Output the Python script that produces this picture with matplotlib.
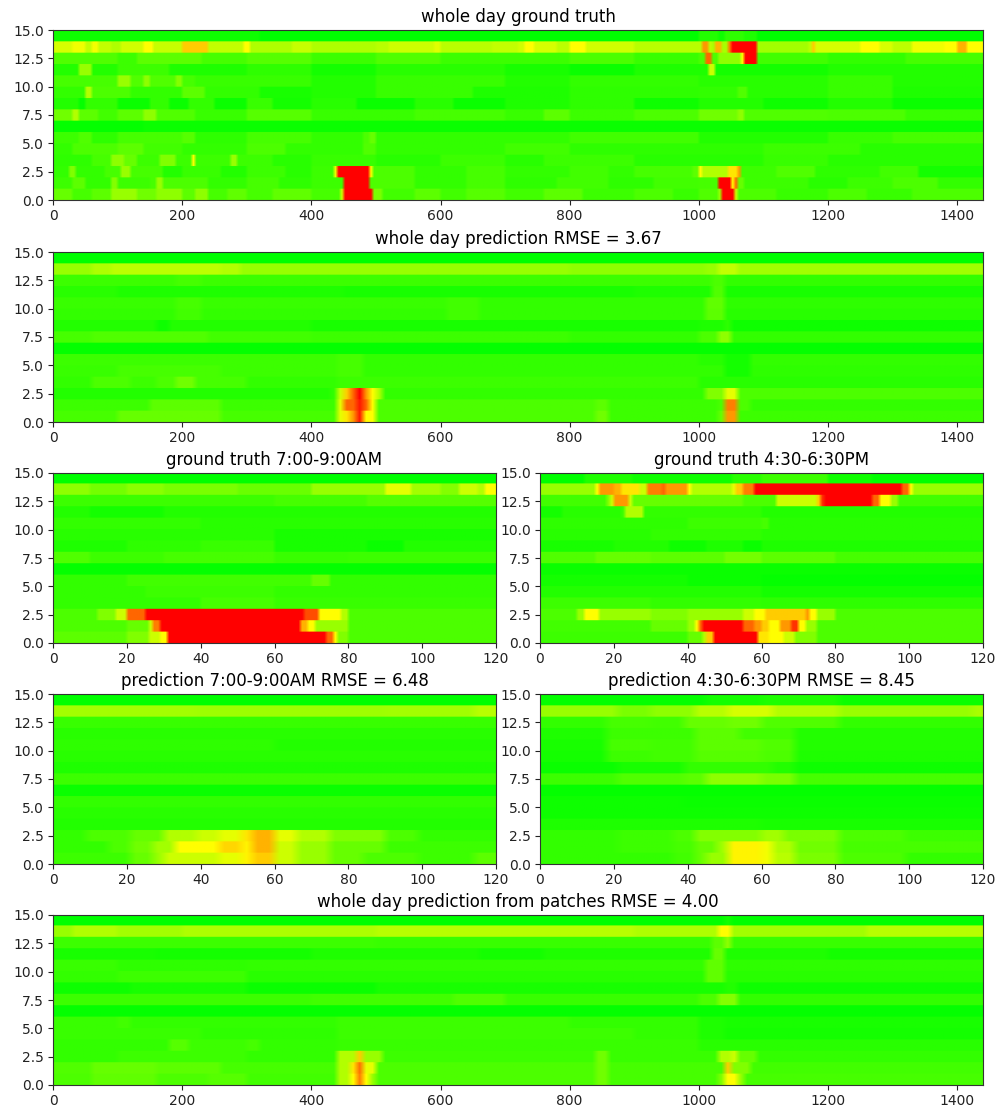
import numpy as np
import matplotlib
matplotlib.use("Agg")
import matplotlib.pyplot as plt
from matplotlib.colors import LinearSegmentedColormap

# Each row (bottom row first) is a list of (start x, congestion level 0-10) runs
GT_DAY = [
 [(0,2),(30,1.4),(60,1.8),(90,3),(130,2.2),(160,2.8),(200,1.8),(220,2.8),(240,1.4),(270,1.9),(300,1.4),(340,1.9),(400,1.4),(445,4),(450,10),(495,2.4),(510,1.3),(560,1.8),(600,1.3),(640,1.7),(700,1.3),(760,1.8),(820,1.2),(900,1.5),(960,1.1),(1000,1.6),(1030,3),(1035,10),(1055,4),(1060,1.5),(1120,1.1),(1200,1.5),(1260,1.1),(1330,1.5),(1440,1.2)],
 [(0,1.2),(30,1.8),(50,1.0),(90,2.6),(100,1.2),(150,1.4),(160,3),(170,1.5),(240,1.0),(300,1.4),(350,0.9),(400,1.2),(448,6),(452,10),(488,4),(492,1.5),(560,1),(640,1.4),(700,0.9),(780,1.3),(860,0.9),(930,1.3),(1000,1.4),(1030,2),(1032,10),(1050,5),(1055,8),(1060,2),(1070,1.2),(1170,0.8),(1230,1.2),(1300,1.5),(1370,1.0),(1440,1)],
 [(0,1),(25,2.5),(35,1),(80,1.4),(105,3),(120,1.4),(170,0.7),(200,1.1),(260,0.7),(300,1.2),(360,0.8),(400,1.2),(435,4.5),(442,10),(490,5),(496,1.5),(560,1.0),(640,1.4),(700,1),(800,1.3),(860,1.0),(900,1.4),(990,1.8),(1000,5),(1004,3.5),(1030,3.5),(1045,5.5),(1060,7),(1066,1.2),(1120,1.6),(1180,0.9),(1280,1.3),(1340,0.4),(1440,0.4)],
 [(0,0.9),(60,1.4),(90,2.8),(110,2),(130,1.2),(165,2.5),(190,1.2),(213,5),(218,1.2),(275,3),(285,1.2),(340,0.8),(400,1.1),(500,0.8),(600,1.2),(700,0.8),(760,1.2),(900,0.8),(1100,1.1),(1200,0.8),(1440,0.9)],
 [(0,1.0),(30,1.5),(100,1.8),(140,1.3),(200,1.0),(300,1.5),(360,1),(480,1.6),(500,1.0),(700,1.3),(800,0.9),(1100,1.2),(1250,0.8),(1440,0.8)],
 [(0,1.2),(40,1.6),(60,0.9),(100,1.4),(200,1.7),(220,0.9),(300,1.4),(400,1.0),(480,1.5),(490,2),(500,1.0),(800,1.3),(1000,0.7),(1200,1.1),(1300,1.4),(1440,0.7)],
 [(0,0.1),(140,0.2),(1440,0.1)],
 [(0,2.2),(30,3.5),(40,1.8),(70,1.3),(100,1.8),(140,2.8),(160,1.6),(220,1.1),(300,1.7),(400,1.1),(560,1.4),(700,1.1),(760,1.8),(800,1.2),(900,1.5),(1000,2.2),(1060,2.8),(1070,1.6),(1200,1.5),(1320,1.1),(1440,1.4)],
 [(0,0.7),(40,0.1),(50,1.0),(100,0.2),(150,1.0),(180,0.2),(210,1),(250,0.2),(300,1.1),(340,0.4),(400,0.8),(470,0.2),(560,0.8),(620,0.2),(700,0.6),(800,0.9),(900,0.3),(1000,0.7),(1100,0.3),(1200,0.7),(1300,0.2),(1440,0.2)],
 [(0,1.0),(50,3.5),(60,1.5),(120,1.0),(200,1.8),(235,1.0),(320,0.5),(400,0.7),(500,1.1),(650,0.6),(800,0.9),(1000,1.0),(1060,1.6),(1075,0.8),(1200,1.1),(1300,0.6),(1440,0.7)],
 [(0,1.4),(100,3),(120,1.6),(140,2.8),(150,1.6),(190,2.6),(200,1.4),(220,1.1),(400,0.7),(500,1.1),(700,0.7),(800,1),(1000,0.8),(1200,1.1),(1300,0.7),(1440,0.8)],
 [(0,0.7),(40,3),(60,0.7),(100,1.2),(180,0.6),(300,0.9),(400,0.4),(500,0.8),(700,0.5),(800,0.2),(900,0.6),(1015,4),(1025,0.4),(1200,0.7),(1440,0.5)],
 [(0,1.6),(100,1.2),(130,1.8),(230,1.4),(300,1.7),(400,1.2),(500,1.6),(600,1.2),(800,1.5),(900,1.1),(1000,1.5),(1012,8),(1018,1.5),(1030,2.8),(1065,5),(1070,10),(1090,1.3),(1200,1.0),(1320,1.4),(1440,1.0)],
 [(0,4.2),(30,4.7),(50,3.8),(60,4.8),(70,3.8),(90,3.4),(105,4.1),(140,5),(155,3.9),(200,6),(240,3.8),(295,5),(305,3.4),(370,3.9),(400,3.4),(500,3.6),(520,4),(590,4.4),(600,3.6),(680,3.8),(720,4.1),(730,5),(745,4.2),(780,3.7),(800,5),(825,4.1),(900,3.6),(990,3.6),(1005,7),(1015,3.7),(1020,3.3),(1025,6.5),(1035,3.3),(1045,7.5),(1050,10),(1090,3.2),(1170,3.7),(1175,6),(1180,4.2),(1250,5),(1280,4.2),(1300,3.7),(1330,4.7),(1380,5),(1400,6.5),(1415,5),(1440,5)],
 [(0,0.3),(320,0),(1000,0.7),(1030,0.3),(1040,0.9),(1070,0.6),(1090,0),(1440,0)],
]
PRED_DAY = [
 [(0,1.4),(100,2),(260,1.4),(440,4.5),(450,5.5),(458,7),(468,9.5),(478,8),(485,5),(498,1.5),(840,2.2),(860,1.2),(1030,2),(1035,7),(1055,3),(1065,1.2),(1440,1.2)],
 [(0,1.2),(150,1.8),(260,1.2),(445,4.5),(452,8),(470,9.5),(480,8),(490,5),(500,1.5),(840,1.8),(860,1.2),(1030,1.5),(1035,7.5),(1055,4),(1062,1.5),(1080,1),(1440,1)],
 [(0,0.7),(430,1),(440,4),(450,6),(455,8),(470,10),(478,7),(490,5),(500,3.5),(510,1),(1000,1),(1010,2.5),(1035,4.5),(1055,5),(1060,1.5),(1440,0.8)],
 [(0,1.0),(60,1.5),(120,1.2),(160,1.5),(190,2.2),(220,1.4),(300,1.0),(440,1.2),(1000,0.8),(1440,0.9)],
 [(0,1.1),(100,1.4),(260,1.2),(440,1.4),(480,1.0),(1040,0.4),(1080,0.9),(1440,0.9)],
 [(0,1.2),(440,1.4),(480,1.0),(1000,0.8),(1040,0.4),(1080,1.0),(1440,1.0)],
 [(0,0.1),(1440,0.1)],
 [(0,1.4),(60,1.6),(240,1.3),(400,1.2),(800,1.0),(1000,1.5),(1030,2.8),(1050,1.0),(1440,1.0)],
 [(0,0.7),(160,0.3),(180,0.7),(400,0.5),(1000,0.6),(1040,0.9),(1050,0.3),(1440,0.3)],
 [(0,1.0),(190,1.3),(230,1.0),(610,1.3),(660,1.0),(1010,1.8),(1045,0.8),(1440,0.8)],
 [(0,1.1),(190,1.4),(230,1.1),(610,1.3),(660,1.0),(1010,1.9),(1045,0.9),(1440,0.9)],
 [(0,0.8),(100,0.6),(450,0.5),(900,0.6),(1015,1.6),(1045,0.5),(1440,0.7)],
 [(0,1.2),(190,1.4),(230,1.2),(1020,1.5),(1035,2.6),(1045,1.0),(1440,1.0)],
 [(0,3.0),(60,3.4),(90,3.7),(260,3.5),(290,3.0),(800,2.8),(1010,3),(1030,3.8),(1060,3.2),(1440,2.8)],
 [(0,0),(1440,0)],
]
PATCH_DAY = [
 [(0,1.5),(60,1.9),(160,1.5),(240,1.7),(300,1.3),(440,3.5),(455,5),(470,7.5),(480,5),(490,3),(505,1.5),(840,2.2),(865,1.4),(1030,2.5),(1035,5),(1055,3),(1070,1.4),(1440,1.2)],
 [(0,1.6),(60,2),(160,1.8),(260,1.4),(445,3.5),(455,5.5),(468,7.8),(480,4.5),(500,1.5),(840,2.2),(865,1.4),(1040,6),(1052,2.5),(1075,1.3),(1440,1.2)],
 [(0,1.0),(100,1.2),(300,1.0),(440,3.5),(470,6),(478,3),(510,1.2),(840,2.2),(865,1.1),(1030,3.5),(1050,4),(1062,2),(1090,1),(1440,1)],
 [(0,1.0),(180,1.7),(210,1.2),(300,1.4),(320,1),(440,1.1),(1000,0.8),(1440,0.9)],
 [(0,1.1),(230,0.9),(440,1.2),(900,1),(1000,0.6),(1040,0.4),(1440,1)],
 [(0,1.1),(100,1.3),(120,1.0),(440,1.2),(800,1.0),(1000,0.6),(1040,0.5),(1440,1)],
 [(0,0.1),(1440,0.1)],
 [(0,1.2),(400,1.3),(620,1.6),(700,1.1),(1000,1.5),(1030,2.6),(1055,1.0),(1440,1)],
 [(0,0.3),(120,0.5),(300,0.2),(500,0.5),(1000,0.5),(1040,0.7),(1055,0.3),(1440,0.2)],
 [(0,1.0),(100,1.2),(300,0.8),(1010,1.9),(1045,0.8),(1440,0.9)],
 [(0,1.1),(100,0.9),(300,1.0),(1010,1.9),(1045,0.9),(1440,1.0)],
 [(0,0.5),(160,0.4),(400,0.6),(660,0.4),(760,0.6),(1020,2),(1040,0.6),(1200,0.4),(1440,0.5)],
 [(0,1.2),(500,1.1),(1020,1.8),(1040,2.8),(1050,1.1),(1440,1.1)],
 [(0,3),(30,3.5),(100,3.2),(200,3.4),(500,3.6),(900,3.4),(1030,5),(1050,3.2),(1260,3.6),(1440,3.2)],
 [(0,0),(1040,0.4),(1050,0),(1440,0)],
]
GT_AM = [
 [(0,1.8),(20,2.5),(26,4),(29,5),(31,10),(74,8),(76,5),(77,2.5),(80,1.5),(120,1.3)],
 [(0,1.5),(20,2),(26,4),(27,7.5),(29,10),(67,6.5),(69,5),(71,3),(80,1.5),(120,1.2)],
 [(0,1.5),(12,2.5),(17,4),(20,8),(25,10),(68,8.5),(72,5),(78,3.5),(80,1.5),(120,1.2)],
 [(0,1.0),(40,1.4),(60,1.1),(120,1.0)],
 [(0,1.0),(25,1.2),(60,1.0),(120,0.9)],
 [(0,1.0),(20,1.3),(70,2),(75,1),(120,0.9)],
 [(0,0.1),(120,0.1)],
 [(0,1.6),(10,1.2),(30,1.4),(60,1.1),(80,1.2),(120,1.2)],
 [(0,0.6),(20,0.9),(40,1.1),(60,0.5),(85,0.2),(95,0.7),(120,0.6)],
 [(0,0.8),(60,0.5),(120,0.6)],
 [(0,1.0),(40,0.8),(120,0.7)],
 [(0,0.7),(10,0.4),(30,0.7),(120,0.5)],
 [(0,1.2),(60,1.4),(85,1.7),(120,1.2)],
 [(0,2.8),(10,2.3),(20,2.7),(30,2.4),(50,2.1),(70,3),(90,4.5),(97,3.2),(105,2.6),(110,4),(115,3.5),(117,5),(120,5)],
 [(0,0),(120,0)],
]
GT_PM = [
 [(0,1.2),(40,2),(44,3.5),(45,6),(47,10),(59,5.5),(62,5),(66,4),(69,2.5),(75,1.5),(120,1.2)],
 [(0,1.3),(30,2),(40,3),(42,5),(43,8),(44,10),(55,8),(58,7),(60,6),(62,5),(65,7),(68,9),(70,5),(72,3),(75,1.5),(120,1.1)],
 [(0,1.5),(10,3),(12,5),(16,3),(30,2.5),(40,3),(55,4),(58,5),(61,6),(72,7),(73,5),(75,3),(80,1.5),(120,1.1)],
 [(0,1.2),(30,1.0),(60,0.9),(120,0.9)],
 [(0,0.7),(60,0.4),(120,0.5)],
 [(0,0.4),(40,0.2),(60,0.1),(120,0.3)],
 [(0,0.2),(120,0.1)],
 [(0,1.6),(15,2),(30,1.8),(50,2.3),(60,1.8),(80,1.4),(120,1.2)],
 [(0,0.5),(20,0.7),(35,0.3),(45,0.6),(55,0.2),(60,0.6),(120,0.2)],
 [(0,0.8),(30,1),(60,0.8),(120,0.6)],
 [(0,0.9),(40,1.2),(60,1.4),(62,0.8),(120,0.6)],
 [(0,0.4),(6,0.8),(22,1.2),(23,3.5),(28,1),(60,0.7),(120,0.5)],
 [(0,1.3),(18,2.5),(19,4),(20,7),(24,4),(25,2),(40,2),(55,1.5),(64,4),(75,6),(76,9),(77,10),(90,8),(92,5),(95,3),(97,1.3),(120,1.3)],
 [(0,3),(15,5),(16,7),(20,6.5),(22,5.5),(27,4),(29,7.5),(33,8),(34,7),(40,5),(41,3.5),(52,4.5),(53,6),(55,7.5),(58,10),(98,8),(100,5),(101,3),(120,3)],
 [(0,0),(12,0.6),(25,0.3),(50,0.3),(52,0.8),(60,1.2),(78,0.3),(90,0),(120,0)],
]
PRED_AM = [
 [(0,1.2),(20,2),(26,3),(30,4),(45,4.5),(50,5.2),(55,6),(60,4),(66,3),(75,2),(85,1.5),(100,1.2),(115,1.8),(120,1.8)],
 [(0,1),(15,1.5),(22,2.2),(28,3.2),(32,5),(45,5.8),(50,5.2),(55,6.5),(60,4),(65,3),(75,2),(90,1.2),(120,1)],
 [(0,1),(10,1.5),(20,2),(30,3.5),(40,4),(45,4.5),(50,5.5),(53,6.5),(59,4.5),(65,3.5),(75,2.5),(90,1.5),(100,1),(120,1)],
 [(0,0.7),(120,0.6)],
 [(0,0.8),(120,0.6)],
 [(0,1),(120,1)],
 [(0,0.2),(120,0.2)],
 [(0,1.2),(120,1.1)],
 [(0,0.6),(120,0.5)],
 [(0,0.8),(120,0.6)],
 [(0,0.9),(60,0.7),(120,0.7)],
 [(0,0.8),(120,0.8)],
 [(0,1.1),(120,1.1)],
 [(0,3.2),(40,3.1),(90,3.2),(115,3.6),(120,3.6)],
 [(0,0),(120,0)],
]
PRED_PM = [
 [(0,1),(20,1),(35,1.3),(42,2),(46,3),(50,4.2),(52,5.2),(60,4.8),(64,3.6),(70,2.4),(80,1.5),(100,1),(120,1)],
 [(0,1),(20,1.2),(35,1.4),(42,2),(48,3.2),(50,4.5),(52,5.2),(60,4.8),(64,3.4),(70,2.2),(80,1.4),(120,1)],
 [(0,1),(20,1.2),(35,1.5),(42,2.6),(60,3.2),(66,2.4),(80,1.5),(100,1.2),(120,1)],
 [(0,0.6),(60,0.5),(120,0.5)],
 [(0,0.3),(120,0.3)],
 [(0,0.3),(40,0.2),(120,0.2)],
 [(0,0.1),(120,0.2)],
 [(0,1.2),(20,1.6),(40,1.8),(46,2.8),(60,2.4),(68,1.4),(120,1.1)],
 [(0,0.2),(20,0.5),(40,1),(62,0.7),(70,0.3),(120,0.2)],
 [(0,0.4),(18,1.2),(30,1.3),(42,1.7),(60,1.5),(68,0.6),(120,0.4)],
 [(0,0.5),(18,1.4),(30,1.3),(42,1.8),(60,1.6),(68,0.7),(120,0.5)],
 [(0,0.6),(18,1.2),(30,1.2),(42,1.8),(55,1.3),(70,0.7),(120,0.6)],
 [(0,1),(18,1.4),(30,1.3),(40,2),(50,2.2),(60,1.6),(80,1),(120,1)],
 [(0,3),(22,2.4),(30,2.8),(42,3.6),(50,4.2),(62,3.5),(80,3),(116,3.3),(120,3.3)],
 [(0,0.1),(44,0.4),(60,0.6),(80,0.2),(120,0.1)],
]
TITLES = ["whole day ground truth", "whole day prediction RMSE = 3.67",
          "ground truth 7:00-9:00AM", "ground truth 4:30-6:30PM",
          "prediction 7:00-9:00AM RMSE = 6.48", "prediction 4:30-6:30PM RMSE = 8.45",
          "whole day prediction from patches RMSE = 4.00"]
W, H = 998, 1111
TOPS = [30, 252, 473, 694, 915]
AX_H = 170
FULL = (53, 983)
LEFT = (53, 496)
RIGHT = (540, 983)

cmap = LinearSegmentedColormap.from_list("gyr", [(0, 1, 0), (1, 1, 0), (1, 0, 0)])


def to_grid(rows, span, cell):
    n = int(round(span / cell))
    grid = np.zeros((15 * 12, n))
    for r, runs in enumerate(rows):
        row = np.zeros(n)
        for (x0, v), (x1, _) in zip(runs[:-1], runs[1:]):
            a = int(round(x0 / cell))
            b = max(int(round(x1 / cell)), a + 1)
            row[a:b] = v
        grid[r * 12:(r + 1) * 12] = row
    return grid


def panel(rows, span, xspan, top, title, ticks, cell):
    ax = fig.add_axes([xspan[0] / W, 1 - (top + AX_H) / H,
                       (xspan[1] - xspan[0]) / W, AX_H / H])
    ax.imshow(to_grid(rows, span, cell), cmap=cmap, vmin=0, vmax=10,
              origin="lower", aspect="auto", extent=(0, span, 0, 15),
              interpolation="bilinear")
    ax.set_xticks(ticks)
    ax.set_yticks(np.arange(0, 15.1, 2.5))
    ax.set_xlim(0, span)
    ax.set_ylim(0, 15)
    ax.set_title(title, fontsize=12, pad=6)
    ax.tick_params(labelsize=10, colors="#222222", pad=3)
    for s in ax.spines.values():
        s.set_color("#333333")
    return ax


fig = plt.figure(figsize=(W / 100, H / 100), dpi=100)
day_ticks = list(range(0, 1401, 200))
patch_ticks = list(range(0, 121, 20))
panel(GT_DAY, 1440, FULL, TOPS[0], TITLES[0], day_ticks, 5)
panel(PRED_DAY, 1440, FULL, TOPS[1], TITLES[1], day_ticks, 10)
panel(GT_AM, 120, LEFT, TOPS[2], TITLES[2], patch_ticks, 1)
panel(GT_PM, 120, RIGHT, TOPS[2], TITLES[3], patch_ticks, 1)
panel(PRED_AM, 120, LEFT, TOPS[3], TITLES[4], patch_ticks, 3)
panel(PRED_PM, 120, RIGHT, TOPS[3], TITLES[5], patch_ticks, 3)
panel(PATCH_DAY, 1440, FULL, TOPS[4], TITLES[6], day_ticks, 10)
fig.savefig("out.png", dpi=100, facecolor="white")
